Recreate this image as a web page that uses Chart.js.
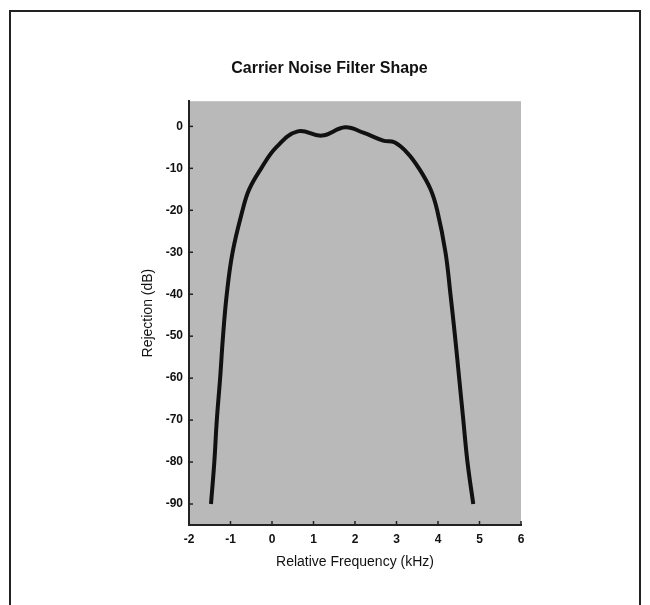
<!DOCTYPE html>
<html>
<head>
<meta charset="utf-8">
<script src="https://cdn.jsdelivr.net/npm/chart.js@4"></script>
<style>
  body { margin: 0; background: #fff; }
  #wrap { position: relative; width: 650px; height: 605px; }
  #frame { position: absolute; left: 9px; top: 10px; width: 628px; height: 600px;
           border-left: 2px solid #222; border-top: 2px solid #222; border-right: 2px solid #222; }
  canvas { position: absolute; left: 0; top: 0; }
</style>
</head>
<body>
<div id="wrap">
  <div id="frame"></div>
  <canvas id="filterChart" width="650" height="605"></canvas>
</div>
<script>
// curve: relative frequency (kHz) and rejection (dB)
const freqKHz = [-1.47, -1.39, -1.33, -1.25, -1.18, -1.09, -0.95, -0.71, -0.55, -0.26, 0.10, 0.62,
                 1.2, 1.76, 2.2, 2.68, 2.95, 3.26, 3.54, 3.82, 3.98, 4.18, 4.30, 4.41, 4.51, 4.61, 4.71, 4.85];
const rejectionDb = [-90, -80, -70, -60, -50, -40, -30, -20, -15, -10, -5, -1.2,
                     -2.2, -0.2, -1.5, -3.4, -3.8, -6.3, -10, -15, -20, -30, -40, -50, -60, -70, -80, -90];
const xTickLabels = [-2, -1, 0, 1, 2, 3, 4, 5, 6];
const yTickLabels = [0, -10, -20, -30, -40, -50, -60, -70, -80, -90];

const points = freqKHz.map((f, i) => ({ x: f, y: rejectionDb[i] }));

// grey plot background plus short tick marks pointing into the plot
const plotDecor = {
    id: 'plotDecor',
    beforeDraw(chart) {
        const { ctx, chartArea: a } = chart;
        ctx.save();
        ctx.fillStyle = '#b9b9b9';
        ctx.fillRect(a.left, a.top, a.right - a.left, a.bottom - a.top);
        ctx.restore();
    },
    afterDraw(chart) {
        const { ctx, chartArea: a, scales } = chart;
        ctx.save();
        ctx.strokeStyle = '#222';
        ctx.lineWidth = 1.5;
        scales.y.ticks.forEach(t => {
            const py = scales.y.getPixelForValue(t.value);
            ctx.beginPath();
            ctx.moveTo(a.left, py);
            ctx.lineTo(a.left + 4, py);
            ctx.stroke();
        });
        scales.x.ticks.forEach(t => {
            const px = scales.x.getPixelForValue(t.value);
            ctx.beginPath();
            ctx.moveTo(px, a.bottom);
            ctx.lineTo(px, a.bottom - 4);
            ctx.stroke();
        });
        ctx.restore();
    }
};

const ctx = document.getElementById('filterChart').getContext('2d');
new Chart(ctx, {
    type: 'scatter',
    data: {
        datasets: [{
            data: points,
            showLine: true,
            borderColor: '#111',
            borderWidth: 4,
            pointRadius: 0,
            tension: 0.4
        }]
    },
    options: {
        responsive: false,
        animation: false,
        layout: { padding: { left: 138, right: 129, top: 0, bottom: 30 } },
        plugins: {
            legend: { display: false },
            tooltip: { enabled: false },
            title: {
                display: true,
                text: 'Carrier Noise Filter Shape',
                color: '#111',
                font: { family: 'Liberation Sans, Arial, sans-serif', size: 16, weight: 'bold' },
                padding: { top: 59, bottom: 23 }
            }
        },
        scales: {
            x: {
                type: 'linear',
                min: -2,
                max: 6,
                afterBuildTicks: s => { s.ticks = xTickLabels.map(v => ({ value: v })); },
                afterFit: s => { s.height = 50; },
                grid: { display: false, drawTicks: false },
                border: { display: true, color: '#222', width: 2 },
                ticks: {
                    color: '#111',
                    padding: 7,
                    font: { family: 'Liberation Sans, Arial, sans-serif', size: 12, weight: 'bold' }
                },
                title: {
                    display: true,
                    text: 'Relative Frequency (kHz)',
                    color: '#111',
                    font: { family: 'Liberation Sans, Arial, sans-serif', size: 14 },
                    padding: { top: 4, bottom: 4 }
                }
            },
            y: {
                type: 'linear',
                min: -95,
                max: 6,
                afterBuildTicks: s => { s.ticks = yTickLabels.map(v => ({ value: v })); },
                afterFit: s => { s.width = 51; },
                grid: { display: false, drawTicks: false },
                border: { display: true, color: '#222', width: 2 },
                ticks: {
                    color: '#111',
                    padding: 6,
                    font: { family: 'Liberation Sans, Arial, sans-serif', size: 12, weight: 'bold' }
                },
                title: {
                    display: true,
                    text: 'Rejection (dB)',
                    color: '#111',
                    font: { family: 'Liberation Sans, Arial, sans-serif', size: 14 },
                    padding: { top: 2, bottom: 2 }
                }
            }
        }
    },
    plugins: [plotDecor]
});
</script>
</body>
</html>
